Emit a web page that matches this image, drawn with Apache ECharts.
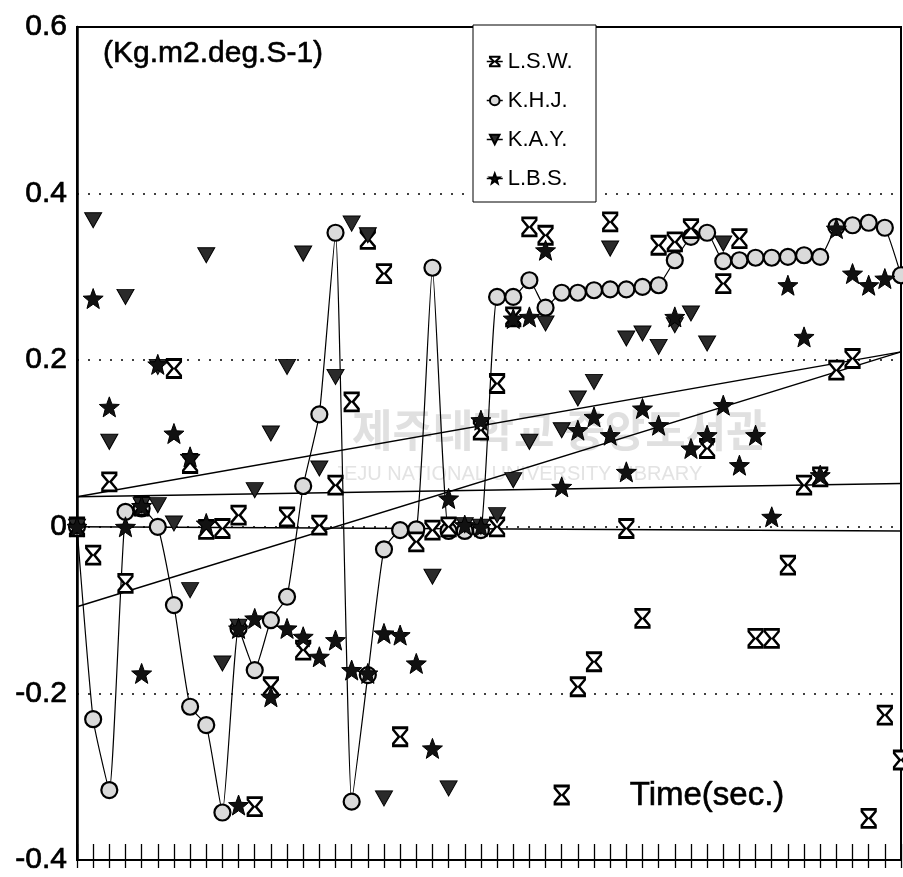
<!DOCTYPE html>
<html>
<head>
<meta charset="utf-8">
<script src="https://cdn.jsdelivr.net/npm/echarts@6/dist/echarts.min.js"></script>
<style>html,body{margin:0;padding:0;background:#fff}#c{width:903px;height:877px}</style>
</head>
<body>
<div id="c"></div>
<script>
// ---------- data ----------
const xMin = 0, xMax = 51;
const yTicks = [-0.4, -0.2, 0, 0.2, 0.4, 0.6];
const yTickLabels = ['-0.4', '-0.2', '0', '0.2', '0.4', '0.6'];
const seriesNames = ['L.S.W.', 'K.H.J.', 'K.A.Y.', 'L.B.S.'];
const unitLabel = '(Kg.m2.deg.S-1)';
const timeLabel = 'Time(sec.)';

// K.H.J. : one value per time step 0..51 (connected)
const khjValues = [0, -0.231, -0.316, 0.018, 0.022, 0.0, -0.094, -0.216, -0.238, -0.343,
  -0.122, -0.172, -0.112, -0.084, 0.049, 0.135, 0.353, -0.33, -0.178, -0.027,
  -0.004, -0.003, 0.311, -0.005, -0.005, -0.004, 0.276, 0.276, 0.296, 0.263,
  0.281, 0.281, 0.284, 0.285, 0.285, 0.288, 0.29, 0.32, 0.348, 0.353,
  0.319, 0.32, 0.323, 0.323, 0.324, 0.326, 0.324, 0.36, 0.362, 0.365, 0.359, 0.302];

// L.S.W. : [time, value]
const lswPoints = [[0,0],[1,-0.034],[2,0.054],[3,-0.068],[4,0.025],[6,0.19],[7,0.076],[8,-0.003],
  [9,-0.002],[10,0.014],[11,-0.336],[12,-0.192],[13,0.012],[14,-0.148],[15,0.002],[16,0.05],
  [17,0.15],[18,0.345],[19,0.304],[20,-0.252],[21,-0.018],[22,-0.004],[23,0.0],[25,0.116],
  [26,0.172],[26,0.0],[27,0.252],[28,0.36],[29,0.35],[30,-0.322],[31,-0.192],[32,-0.162],
  [33,0.366],[34,-0.002],[35,-0.11],[36,0.338],[37,0.342],[38,0.358],[39,0.094],[40,0.292],
  [41,0.346],[42,-0.134],[43,-0.134],[44,-0.046],[45,0.05],[46,0.06],[47,0.188],[48,0.202],
  [49,-0.35],[50,-0.226],[51,-0.28]];

// K.A.Y. : [time, value]
const kayPoints = [[0,0],[1,0.368],[2,0.102],[3,0.276],[4,0.026],[5,0.192],[5,0.026],[6,0.004],
  [7,-0.076],[8,0.326],[9,-0.164],[10,-0.12],[11,0.044],[12,0.112],[13,0.192],[14,0.328],
  [15,0.07],[16,0.18],[17,0.364],[18,0.35],[19,-0.326],[22,-0.06],[23,-0.314],[24,0.002],
  [25,0.0],[26,0.014],[27,0.056],[28,0.102],[29,0.244],[30,0.116],[31,0.154],[32,0.174],
  [33,0.334],[34,0.226],[35,0.232],[36,0.216],[37,0.242],[38,0.256],[39,0.22],[40,0.34]];

// L.B.S. : [time, value]
const lbsPoints = [[0,0],[1,0.274],[2,0.144],[3,0.0],[4,-0.176],[4,0.025],[5,0.195],[6,0.112],
  [7,0.084],[8,0.004],[10,-0.122],[10,-0.334],[11,-0.11],[12,-0.204],[13,-0.122],[14,-0.132],
  [15,-0.156],[16,-0.136],[17,-0.172],[18,-0.176],[19,-0.128],[20,-0.13],[21,-0.164],
  [22,-0.266],[23,0.034],[24,0.002],[25,0.128],[25,0.0],[27,0.25],[28,0.252],[29,0.332],
  [30,0.048],[31,0.116],[32,0.132],[33,0.11],[34,0.066],[35,0.142],[36,0.122],[37,0.252],
  [38,0.094],[39,0.11],[40,0.146],[41,0.074],[42,0.11],[43,0.012],[44,0.29],[45,0.228],
  [46,0.062],[47,0.358],[48,0.304],[49,0.29],[50,0.298]];

// linear trend lines: value at time 0 and at time 51
const trendStart = [0.036, -0.096, 0.036, 0.0];
const trendEnd   = [0.21, 0.21, 0.052, -0.005];

// ---------- chart ----------
const FONT = '"Liberation Sans", Arial, Helvetica, sans-serif';
const hourglass = 'path://M0,0 L12,0 L12,2 L7,9 L12,16 L12,18 L0,18 L0,16 L5,9 L0,2 Z';
const star = 'path://M10,0 L12.47,6.6 L19.51,6.91 L13.99,11.3 L15.88,18.09 L10,14.2 L4.12,18.09 L6.01,11.3 L0.49,6.91 L7.53,6.6 Z';
const downTri = 'path://M0,0 L12,0 L6,10 Z';

const chart = echarts.init(document.getElementById('c'), null, {renderer: 'canvas', width: 903, height: 877});

const trendSeries = trendStart.map((s, k) => ({
  type: 'line', name: 'trend' + k, data: [[xMin, s], [xMax, trendEnd[k]]],
  symbol: 'none', lineStyle: {color: '#000', width: 1.5}, z: 2, silent: true
}));

const option = {
  animation: false,
  backgroundColor: '#fff',
  grid: {left: 77, right: 2, top: 27, bottom: 17, show: true, borderColor: '#000', borderWidth: 2, backgroundColor: 'transparent'},
  xAxis: [
    {type: 'value', min: xMin, max: xMax, interval: 1, position: 'bottom',
     axisLine: {show: true, onZero: false, lineStyle: {color: '#000', width: 2}},
     axisTick: {show: true, inside: true, length: 16, lineStyle: {color: '#000', width: 1.3}},
     axisLabel: {show: false}, splitLine: {show: false}},
    {type: 'value', min: xMin, max: xMax, interval: 1, position: 'bottom',
     axisLine: {show: false, onZero: false},
     axisTick: {show: true, inside: false, length: 8, lineStyle: {color: '#000', width: 1.3}},
     axisLabel: {show: false}, splitLine: {show: false}}
  ],
  yAxis: {
    type: 'value', min: -0.4, max: 0.6, interval: 0.2,
    axisLine: {show: true, onZero: false, lineStyle: {color: '#000', width: 2.5}},
    axisTick: {show: false},
    axisLabel: {
      color: '#000', fontSize: 30, fontFamily: FONT, margin: 10,
      textBorderColor: '#000', textBorderWidth: 0.7,
      formatter: v => {
        let best = 0;
        yTicks.forEach((t, i) => { if (Math.abs(t - v) < Math.abs(yTicks[best] - v)) best = i; });
        return yTickLabels[best];
      }
    },
    splitLine: {show: true, lineStyle: {color: '#000', width: 1.5, type: [2, 9]}}
  },
  legend: {
    orient: 'vertical', left: 481, top: 45, itemWidth: 16, itemHeight: 12, itemGap: 16,
    data: seriesNames,
    textStyle: {color: '#000', fontSize: 22, fontFamily: FONT, lineHeight: 23},
    lineStyle: {color: '#000', width: 1.5, opacity: 1, type: 'solid'},
    selectedMode: false, z: 6
  },
  graphic: [
    {type: 'text', z: 1, silent: true, left: 352, top: 408,
     style: {text: '제주대학교 중앙도서관', font: 'bold 44px "Noto Sans CJK KR"', fill: '#e0e0e0'}},
    {type: 'text', z: 1, silent: true, left: 334, top: 464,
     style: {text: 'JEJU NATIONAL UNIVERSITY LIBRARY', font: '20px ' + FONT, fill: '#e3e3e3'}},
    {type: 'rect', z: 5, silent: true, shape: {x: 473, y: 25, width: 123, height: 177},
     style: {fill: '#fff', stroke: '#000', lineWidth: 1}},
    {type: 'text', z: 5, silent: true, x: 103, y: 54,
     style: {text: unitLabel, font: '30px ' + FONT, fill: '#000', verticalAlign: 'middle', align: 'left',
             stroke: '#000', lineWidth: 0.6}},
    {type: 'text', z: 5, silent: true, x: 707, y: 796,
     style: {text: timeLabel, font: '33px ' + FONT, fill: '#000', verticalAlign: 'middle', align: 'center',
             stroke: '#000', lineWidth: 0.6}}
  ],
  series: [
    ...trendSeries,
    {name: 'K.H.J.', type: 'line', data: khjValues.map((v, i) => [i, v]), smooth: 0.15,
     symbol: 'circle', symbolSize: 16, z: 3,
     lineStyle: {color: '#000', width: 1.2},
     itemStyle: {color: '#dadada', borderColor: '#000', borderWidth: 2.2}},
    {name: 'L.S.W.', type: 'line', data: lswPoints, symbol: hourglass, symbolSize: [14, 18], z: 3,
     lineStyle: {width: 0, opacity: 0},
     itemStyle: {color: '#fff', borderColor: '#000', borderWidth: 2.5}},
    {name: 'K.A.Y.', type: 'line', data: kayPoints, symbol: downTri, symbolSize: [17, 15], z: 3,
     lineStyle: {width: 0, opacity: 0},
     itemStyle: {color: '#2a2a2a', borderColor: '#000', borderWidth: 1}},
    {name: 'L.B.S.', type: 'line', data: lbsPoints, symbol: star, symbolSize: 20, z: 3,
     lineStyle: {width: 0, opacity: 0},
     itemStyle: {color: '#111', borderColor: '#000', borderWidth: 1}}
  ]
};
chart.setOption(option);
</script>
</body>
</html>
